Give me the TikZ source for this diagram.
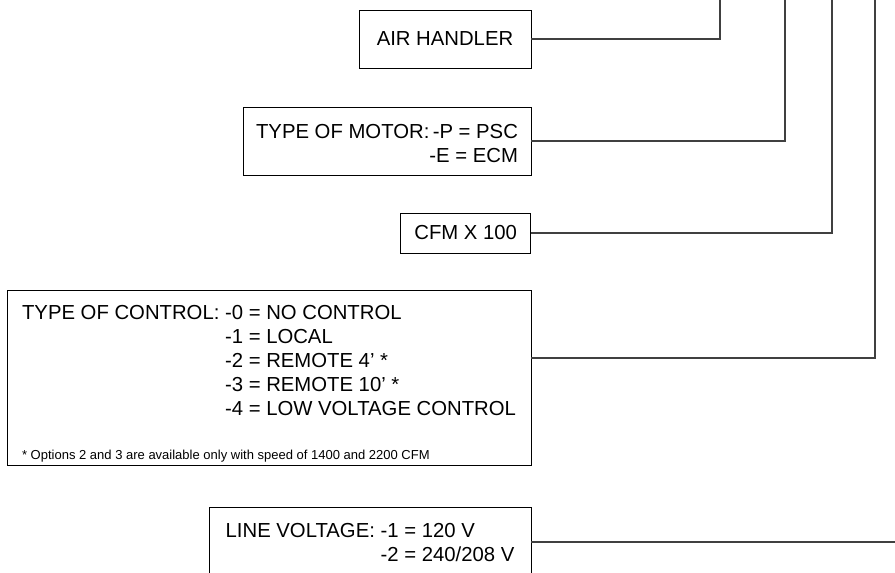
\documentclass[tikz,border=0pt]{standalone}
\usepackage{fontspec}
\setmainfont{Liberation Sans}
\usetikzlibrary{positioning}

\begin{document}
\begin{tikzpicture}[x=1pt, y=-1pt,
  box/.style={draw=black, line width=0.9pt, fill=white, inner sep=0pt, font=\fontsize{20.3}{24}\selectfont},
  link/.style={draw=black!75, line width=1.2pt}
]
\useasboundingbox (0,0) rectangle (895,573);
\coordinate (t1) at (720,0);
\coordinate (t2) at (785,0);
\coordinate (t3) at (832,0);
\coordinate (t4) at (875,0);
\coordinate (r5) at (895,542);
\node[box, minimum width=172pt, minimum height=58pt] (air) at (445,39) {AIR HANDLER};
\node[box, minimum width=288pt, text height=31pt, text depth=37pt] (motor) at (387,141)
  {\begin{tabular}[t]{@{}l@{}r@{}}TYPE OF MOTOR:&-P = PSC\\&-E = ECM\end{tabular}};
\node[box, minimum width=130pt, minimum height=40pt] (cfm) at (465.7,233) {CFM X 100};
\node[box, minimum width=524pt, text height=29pt, text depth=146pt] (ctrl) at (269,377.5)
  {\begin{tabular}[t]{@{}l@{\ }l@{}}
   TYPE OF CONTROL: & -0 = NO CONTROL\\
   & -1 = LOCAL\\
   & -2 = REMOTE 4' *\\
   & -3 = REMOTE 10' *\\
   & -4 = LOW VOLTAGE CONTROL\\[20pt]
   \multicolumn{2}{@{}l@{}}{\fontsize{13}{15}\selectfont * Options 2 and 3 are available only with speed of 1400 and 2200 CFM}
   \end{tabular}};
\node[box, minimum width=322pt, text height=30pt, text depth=40pt] (volt) at (370,542)
  {\begin{tabular}[t]{@{}l@{\ }l@{}}LINE VOLTAGE: & -1 = 120 V\\ & -2 = 240/208 V\end{tabular}};
\draw[link] (air.east) -| (t1);
\draw[link] (motor.east) -| (t2);
\draw[link] (cfm.east) -| (t3);
\draw[link] ([yshift=19.5pt]ctrl.east) -| (t4);
\draw[link] (volt.east) -- (r5);
\end{tikzpicture}
\end{document}
